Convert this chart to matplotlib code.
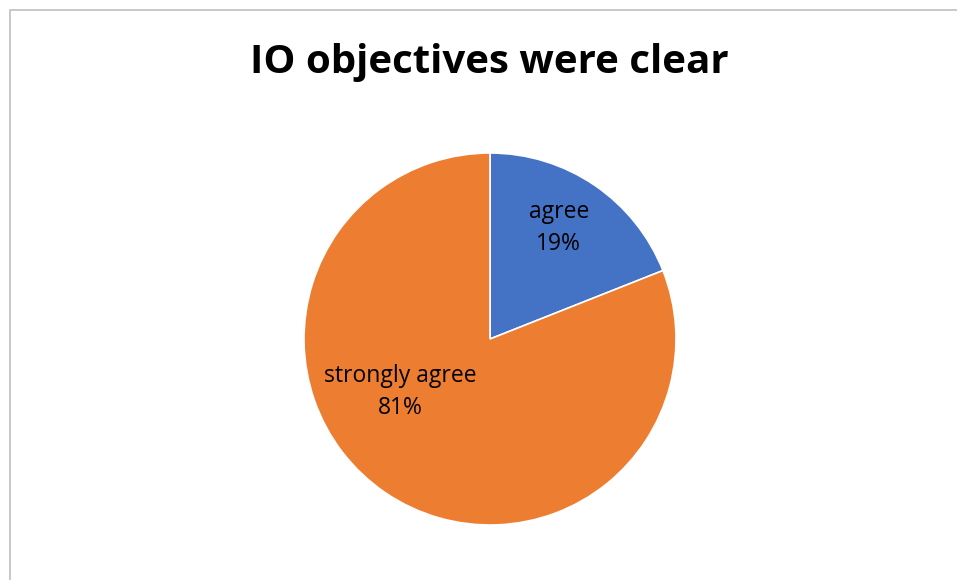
import matplotlib.pyplot as plt
from matplotlib.patches import Rectangle

categories = ["agree", "strongly agree"]
shares = [19, 81]
colors = ["#4472C4", "#ED7D31"]
title = "IO objectives were clear"

W, H = 957, 580
fig = plt.figure(figsize=(W / 100, H / 100), dpi=100)
plt.rcParams["font.family"] = ["Open Sans", "DejaVu Sans"]

# chart frame (only left and top edges are visible in the crop)
fig.patches.append(Rectangle((10 / W, -0.1), 1.2, (H - 10) / H + 0.1,
                             transform=fig.transFigure, fill=False,
                             edgecolor="#BFBFBF", linewidth=1.2))

cx, cy, r = 490, 339, 186
ax = fig.add_axes([(cx - r) / W, (H - cy - r) / H, 2 * r / W, 2 * r / H])
wedges, _ = ax.pie(shares, colors=colors, startangle=90, counterclock=False,
                   radius=1, wedgeprops=dict(edgecolor="white", linewidth=1.2))
ax.set_xlim(-1, 1)
ax.set_ylim(-1, 1)
ax.axis("off")

label_pos = [(0.37, 0.595), (-0.48, -0.285)]
for name, val, (x, y) in zip(categories, shares, label_pos):
    ax.text(x, y, f"{name}\n{val}%", ha="center", va="center",
            fontsize=16.5, color="#000000", linespacing=1.45)

fig.text(489 / W, 1 - 62 / H, title, ha="center", va="center",
         fontsize=29, fontweight="bold", color="#000000")

fig.savefig("out.png", dpi=100)
